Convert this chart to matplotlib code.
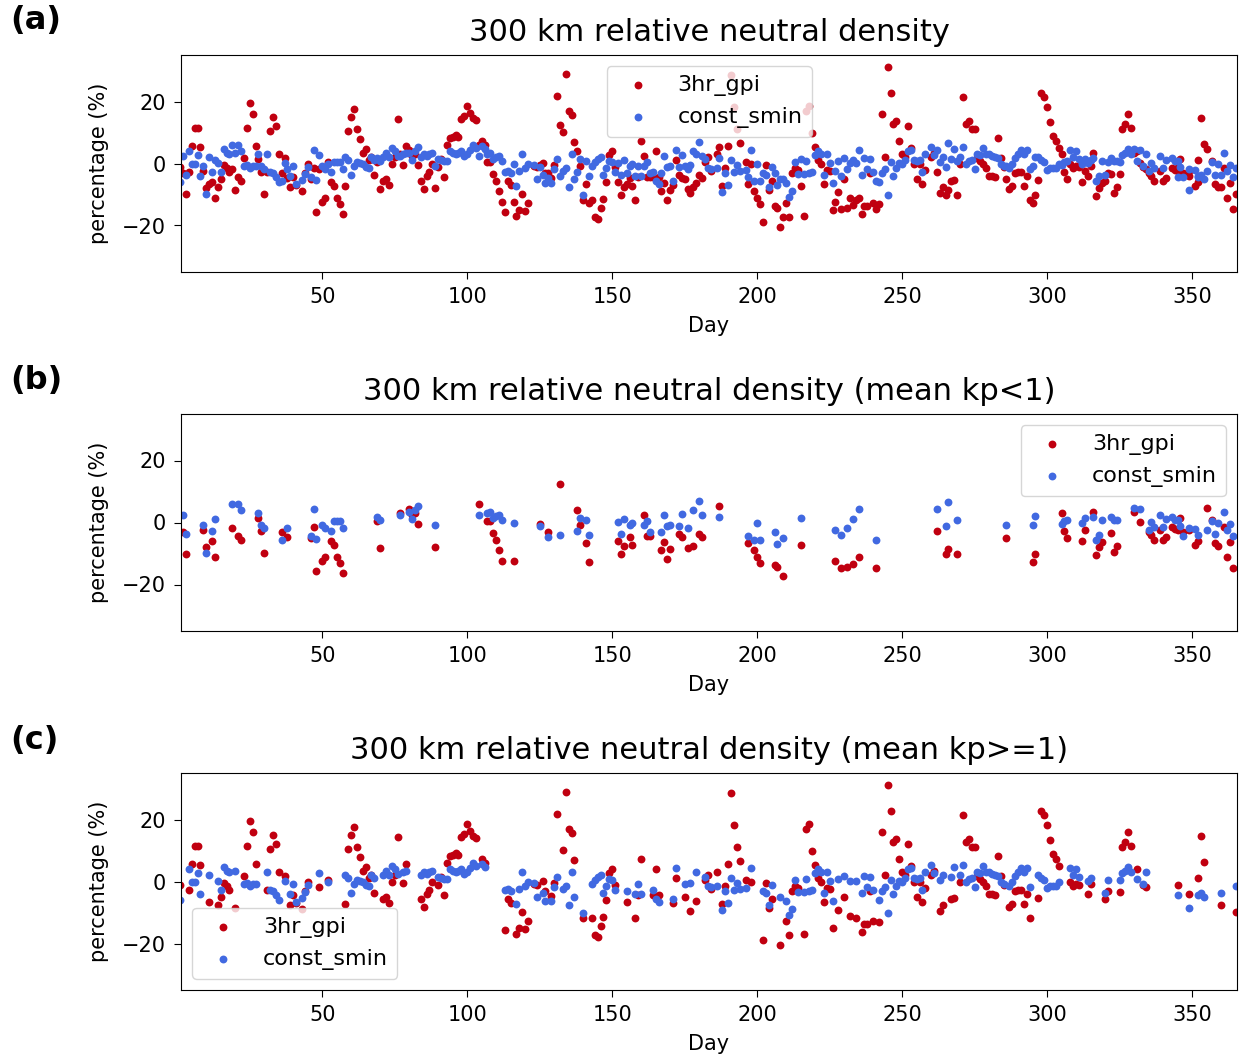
import numpy as np
import matplotlib
matplotlib.use("Agg")
import matplotlib.pyplot as plt

# ---- days with mean kp < 1 ----
low_day = [2,3,9,10,12,13,19,21,22,28,29,30,36,38,46,47,48,50,51,53,54,55,56,57,69,70,77,80,81,82,83,89,
           104,107,108,109,110,111,112,116,125,128,132,138,139,141,142,152,153,154,156,157,161,162,163,167,168,169,170,173,174,176,178,180,181,
           187,197,199,200,201,206,207,209,215,227,229,231,233,235,241,262,265,266,269,
           286,295,296,305,306,307,312,313,316,317,318,319,322,323,324,330,332,335,336,337,339,340,341,343,344,345,346,347,349,351,352,355,357,358,359,361,362,363,364]
low_gpi = [-3.1,-10,-2.4,-8,-6,-11,-1.8,-4.5,-5.8,1.5,-2.9,-9.7,-3.1,-4.7,-5,-1.3,-15.5,-12.3,-11,-6,-7.2,-11.2,-13,-16.3,0.4,-8.1,3,4.4,2.3,3.0,-0.6,-8,
           6.0,0.4,0.5,-3.4,-5.8,-8.8,-12.5,-12.5,-0.4,-3.1,12.5,3.9,-0.8,-6.7,-12.8,-6.0,-10.1,-7.7,-4.7,-7.4,2.3,-4.2,-4.2,-8.8,-6.3,-11.7,-8.7,-3.7,-4.6,-8.2,-7.7,-3.8,-4.8,
           5.2,-6.7,-9.0,-11.2,-13.1,-13.7,-14.2,-17.3,-7.1,-12.5,-14.7,-14.4,-13.3,-11.2,-14.6,-2.6,-10.1,-8.5,-10.3,
           -5.1,-12.6,-10.3,3.0,-2.9,-5.1,-6.0,-2.4,3.5,-10.6,-8.0,-6.4,-3.4,-9.4,-7.6,3.3,0.1,-3.1,-4.0,-5.8,-2.4,-5.8,-4.8,-1.5,-2.0,-2.5,1.5,-3.1,-2.4,-7.1,-6.0,4.7,0.9,-6.7,-7.7,-1.5,-11.2,-6.3,-14.6]
low_smin = [2.5,-3.7,-0.8,-9.8,-2.6,1,6,6,4.1,3,-0.8,-1.9,-5.6,-1.9,-4.2,4.4,-5.3,-0.7,-1.9,-2.6,0.6,0.5,0.4,-1.9,1.9,0.9,2.5,3.5,1.2,3.9,5.3,-0.7,
            2.3,3.0,3.5,1.5,2.0,2.4,0.8,-0.2,-1.2,-4.6,-3.9,-2.9,1.5,0.7,-3.9,0.3,-3.7,1.2,-0.8,-0.2,-0.8,0.4,-3.1,-3.1,2.3,-1.0,-0.8,-1.0,2.8,-1.7,4.0,6.9,2.3,
            1.9,-4.5,-5.8,-0.2,-5.8,-3.2,-6.9,-5.0,1.6,-2.4,-4.0,-1.7,1.0,4.2,-5.8,4.2,-1.2,6.6,0.7,
            -0.8,-0.8,2.0,-0.4,0.4,0.9,-0.2,1.4,1.9,-5.8,-4.0,0.7,1.9,0.7,0.7,4.8,4.2,-2.4,0.1,-1.3,2.4,-1.5,1.0,1.9,0.9,0.7,-1.0,-4.2,-1.8,-2.0,-3.9,-2.4,0.4,-3.7,-0.2,3.3,-2.4,-0.4,-4.5]

# ---- days with mean kp >= 1 ----
high_day = [1,4,5,6,7,8,11,14,15,16,17,18,20,23,24,25,26,27,31,32,33,34,35,37,39,40,41,43,44,45,49,52,58,59,60,61,62,63,64,65,66,67,68,71,72,73,74,75,76,78,79,84,85,86,87,88,90,91,92,93,
            94,95,96,97,98,99,100,101,102,103,105,106,113,114,115,117,118,119,120,121,123,124,126,127,129,130,131,133,134,135,136,137,140,143,144,145,146,147,148,149,150,151,155,158,159,160,164,165,166,171,172,175,177,179,182,183,184,
            186,188,189,190,191,192,193,194,196,198,202,203,204,205,208,210,211,212,213,214,216,217,218,219,220,221,222,223,224,225,226,228,230,232,234,236,237,238,239,240,242,243,244,245,246,247,248,249,250,251,252,253,254,255,256,257,258,260,261,263,264,267,268,270,271,272,273,274,275,276,
            277,278,279,280,281,282,283,284,285,287,288,289,290,291,292,293,294,297,298,299,300,301,302,303,304,308,309,310,311,314,315,320,321,325,326,327,328,329,331,333,334,345,349,352,353,354,360,365]
high_gpi = [-1,-2.9,5.7,11.4,11.4,5.2,-6.5,-7.7,-5.1,-0.5,-1.3,-2.9,-8.6,1.9,11.6,19.4,16.1,5.7,-2.9,10.5,15.1,12.2,3.0,1.9,-7.5,-4.5,-7,-9,-3.2,-0.2,-1.8,0.5,-7.2,10.5,15.1,17.7,11.1,7.8,3.5,4.8,1.0,2.0,-3.8,-5.6,-5.1,-7,0,2,14.3,-0.4,5.7,-5.6,-8.2,-3.9,-2.6,-0.2,-1.1,1.5,-4.5,6.0,
            8.2,8.6,9.2,8.4,14.3,15.4,18.6,16.4,14.6,14.0,7.1,6.0,-15.5,-5.8,-6.9,-16.9,-15.1,-9.7,-15.3,-12.9,-0.8,-1,0.3,-3.2,-4.7,-0.4,21.8,10.3,29.0,16.8,15.7,6.8,-11.8,-11.8,-17.4,-17.9,-14.4,-11.3,-6.0,2.9,3.9,-1,-6.6,-11.8,-4.3,7.3,-4.3,3.9,-4.3,-6.9,1,-5.1,-9.4,-6.4,0.5,2.2,-2.3,
            3.2,-7.2,-1.3,5.7,28.6,18.3,11.1,6.5,0.5,0,-18.8,-0.4,-8.6,-5.8,-20.4,-12.9,-17.4,-3.2,-1.3,-2,-16.9,16.8,18.6,10.0,5.2,1,-0.2,-6.6,-2,-2.4,-15.1,-9.1,-5.1,-11.2,-11.8,-16.4,-13.6,-13.6,-3.0,-12.9,-13.1,16.1,2,31.0,22.9,12.7,13.7,7.1,3.0,2,12.1,4.9,0,-5.1,0,-6.6,-2.2,2,3.5,-9.4,-7.7,-5.6,-5.4,0,21.5,12.7,13.7,11.1,11.1,1.9,
            0.9,0,-1.3,-4,-4,-4.3,8.1,1.9,-1,-8.3,-7.2,-3.2,-2.7,-2.9,-7.1,-4.0,-11.8,-5.4,22.7,21.5,18.3,13.5,8.9,7.1,5.0,0,-1.3,-0.8,-1.1,-4,-0.8,-5.8,-3.2,-3.4,11.1,12.7,16.1,11.6,3.9,-1,-1.8,-1.1,-4,1.0,14.6,6.2,-7.5,-9.7]
high_smin = [-6,4.1,0,-0.2,2.8,-4,2.2,0.3,-2.6,4.6,3.5,3,3.5,-0.8,-0.4,-1.3,-0.8,-0.8,3,-2.9,-3.2,-4.5,-6.1,0.3,-4.0,-0.8,-6.7,-5.4,-3.5,-1,2.8,-0.2,2.1,1.0,-3.7,-0.8,0.5,0.3,0,-1.0,-1.3,2.1,1.0,2.0,3.5,2.0,5.1,4.1,2.5,3.0,3.5,2.0,3.0,2.5,3.0,3.5,1.3,1.0,0.9,0.8,
             4.1,3.5,3.0,3.5,4.1,2.5,3.0,4.5,6.0,5.1,5.6,4.8,-2.9,-2.4,-3.0,-7.2,-2.4,3.0,-1.3,-0.2,-0.4,-5.1,-3.7,-6.4,-6.4,-1.8,1.6,-2.4,-1.3,-7.7,3.0,-5.1,-10.1,-0.8,0.5,1.6,2.1,-3.7,-1.3,0.9,0.5,-2.9,-3.2,-3.9,-0.8,-3.9,-2.6,-5.6,-6.6,-5.6,4.4,-0.8,-0.4,3.2,1.4,-1.5,-1.8,
             -1.3,-9.1,-3.2,-6.9,1.1,-2.9,-0.4,-2.4,-2.2,4.4,-3.2,-3.7,-7.7,-1.1,-5.1,-6.4,-10.8,-8.8,0.6,-3.4,-3.4,0.9,-3.2,-2.9,2.8,4.1,3.0,-3.7,3.0,0.3,-6.4,0.9,1.9,0.3,0.3,-3.7,1.9,-1.8,1.4,-2.6,-6.0,-3.2,-1.8,-10.1,0.6,-3.9,-1.3,0.3,0,1.1,3.9,4.4,1.0,0.9,1.1,-2.9,3.0,5.4,2.8,0.6,2.1,1.4,4.6,2.1,5.4,0,0.9,1,-1.8,3.2,
             2.8,5.1,3,3,2.5,2.1,1.9,0,-0.8,-1.3,0,1.9,3,4.4,3,4.4,-1.8,2.1,1,0.6,-2.2,-1.3,-1.3,-1.3,0,4.4,2.1,4.1,1.4,0.3,1.1,-3.7,0.6,0.6,2.8,3.5,4.6,3.0,0.9,-0.8,3.0,-4.3,-8.6,-4.5,-3.7,-5.1,-3.7,-1.3]

titles = ["300 km relative neutral density",
          "300 km relative neutral density (mean kp<1)",
          "300 km relative neutral density (mean kp>=1)"]
panel_tags = ["(a)", "(b)", "(c)"]
series_names = ["3hr_gpi", "const_smin"]

RED = "#c00010"
BLUE = "#4169e1"

all_day = low_day + high_day
all_gpi = low_gpi + high_gpi
all_smin = low_smin + high_smin
order = np.argsort(all_day, kind="stable")
a_day = np.array(all_day)[order]
a_gpi = np.array(all_gpi)[order]
a_smin = np.array(all_smin)[order]

datasets = [(a_day, a_gpi, a_smin),
            (np.array(low_day), np.array(low_gpi), np.array(low_smin)),
            (np.array(high_day), np.array(high_gpi), np.array(high_smin))]
legend_locs = ["upper center", "upper right", "lower left"]

W, H = 1244, 1061
fig = plt.figure(figsize=(W / 100, H / 100), dpi=100)
tops = [55, 414, 773]
tag_y = [21, 381, 740]
for i in range(3):
    top = tops[i]
    ax = fig.add_axes([181 / W, 1 - (top + 217) / H, 1056 / W, 217 / H])
    d, g, s = datasets[i]
    ax.scatter(d, g, s=32, color=RED, label=series_names[0], linewidths=0)
    ax.scatter(d, s, s=32, color=BLUE, label=series_names[1], linewidths=0)
    ax.set_xlim(1.3, 365.5)
    ax.set_ylim(-35, 35)
    ax.set_xticks([50, 100, 150, 200, 250, 300, 350])
    ax.set_yticks([-20, 0, 20])
    ax.tick_params(labelsize=15, length=5, pad=6)
    ax.set_xlabel("Day", fontsize=15, labelpad=6)
    ax.set_ylabel("percentage (%)", fontsize=15, labelpad=9)
    ax.set_title(titles[i], fontsize=22, pad=10)
    ax.legend(loc=legend_locs[i], fontsize=16, scatterpoints=1)
    fig.text(10 / W, 1 - tag_y[i] / H, panel_tags[i], fontsize=23, fontweight="bold", va="center", ha="left")

fig.savefig("out.png", dpi=100)
